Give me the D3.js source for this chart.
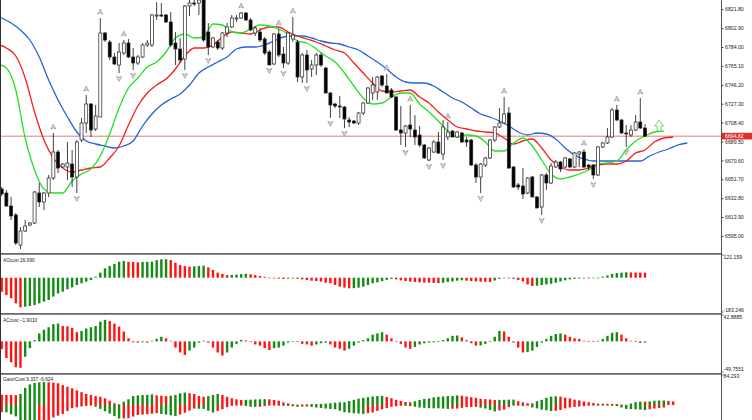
<!DOCTYPE html>
<html>
<head>
<meta charset="utf-8">
<script src="https://cdnjs.cloudflare.com/ajax/libs/d3/7.8.5/d3.min.js"></script>
<style>
  body { margin: 0; background: #fff; }
  text { font-family: "Liberation Sans", Arial, sans-serif; }
</style>
</head>
<body>
<div id="chart"></div>
<script>
// ---- candles (bar 0 = oldest, bar 137 = current) ----
const opens = [6642,6638,6625,6616,6586,6600,6606,6608,6638,6629,6638,6653,6679,6664,6664,6667,6654,6691,6708,6727,
  6702,6714,6798,6789,6774,6766,6778,6788,6774,6768,6774,6786,6786,6815,6816,6816,6809,6788,6782,6772,
  6825,6828,6828,6833,6799,6784,6789,6783,6798,6804,6812,6813,6818,6811,6798,6799,6792,6779,6767,6797,
  6777,6768,6792,6789,6754,6776,6762,6766,6776,6763,6738,6727,6725,6724,6711,6710,6708,6718,6728,6738,
  6739,6755,6745,6741,6734,6701,6698,6706,6701,6696,6686,6671,6679,6689,6677,6694,6700,6694,6698,6691,
  6691,6666,6654,6666,6673,6691,6704,6708,6718,6664,6646,6645,6638,6654,6634,6624,6656,6648,6664,6669,
  6664,6672,6664,6677,6679,6666,6666,6656,6684,6688,6694,6721,6711,6698,6696,6701,6709,6703];
const highs = [6644,6641,6634,6618,6604,6611,6609,6640,6648,6639,6656,6698,6681,6668,6689,6681,6691,6713,6736,6728,
  6726,6813,6799,6791,6778,6788,6791,6792,6783,6776,6788,6791,6817,6829,6828,6817,6819,6799,6793,6826,
  6831,6831,6833,6837,6808,6794,6791,6799,6808,6816,6816,6819,6819,6813,6805,6803,6794,6781,6798,6802,
  6784,6799,6814,6791,6778,6781,6771,6778,6778,6764,6739,6728,6735,6725,6714,6711,6719,6729,6744,6754,
  6755,6756,6757,6743,6735,6725,6706,6726,6716,6705,6687,6684,6691,6699,6711,6709,6701,6700,6699,6694,
  6692,6668,6668,6674,6692,6705,6723,6734,6724,6665,6648,6663,6654,6655,6635,6657,6658,6668,6671,6670,
  6674,6673,6679,6680,6682,6667,6667,6685,6689,6703,6723,6726,6712,6706,6706,6716,6733,6707];
const lows = [6635,6624,6611,6586,6582,6599,6605,6607,6624,6621,6634,6651,6658,6663,6651,6644,6638,6689,6698,6694,
  6700,6714,6789,6771,6766,6758,6776,6773,6761,6766,6773,6784,6784,6811,6814,6808,6784,6766,6768,6761,
  6815,6825,6816,6789,6776,6783,6781,6781,6794,6803,6809,6812,6810,6800,6795,6789,6776,6766,6766,6774,
  6763,6766,6789,6749,6748,6748,6754,6756,6764,6738,6713,6723,6713,6703,6704,6707,6706,6716,6727,6731,
  6731,6744,6738,6733,6700,6686,6684,6694,6686,6684,6672,6670,6678,6677,6671,6691,6694,6693,6688,6684,
  6665,6648,6638,6664,6672,6689,6703,6707,6662,6643,6641,6632,6637,6634,6623,6616,6641,6647,6663,6659,
  6663,6663,6663,6664,6663,6661,6652,6655,6683,6687,6693,6710,6697,6684,6694,6700,6702,6694];
const closes = [6637,6625,6615,6588,6600,6605,6608,6639,6629,6638,6653,6679,6663,6667,6668,6654,6689,6708,6727,6701,
  6715,6798,6791,6774,6767,6779,6788,6774,6768,6774,6786,6788,6816,6816,6815,6809,6786,6782,6771,6825,
  6828,6827,6831,6791,6784,6793,6783,6798,6804,6813,6813,6818,6811,6801,6803,6791,6778,6766,6797,6776,
  6768,6798,6796,6754,6776,6761,6766,6776,6766,6738,6726,6725,6724,6712,6709,6708,6718,6728,6743,6746,
  6754,6746,6738,6734,6701,6698,6705,6702,6694,6686,6673,6683,6689,6678,6704,6699,6694,6699,6689,6689,
  6666,6654,6667,6673,6691,6704,6708,6717,6663,6644,6644,6637,6653,6634,6623,6656,6648,6665,6669,6662,
  6673,6664,6678,6679,6664,6664,6656,6684,6688,6694,6721,6711,6698,6697,6701,6709,6703,6694.82];

// fractal bars
const fractalUpBars = [11, 18, 21, 26, 51, 59, 62, 82, 87, 95, 107, 124, 131, 136];
const fractalDownBars = [16, 25, 28, 39, 44, 57, 60, 65, 70, 73, 86, 91, 94, 102, 115, 126, 133];

// signal arrow (bar, price at its base)
const signalBars = [140];
const signalPrices = [6700];

// ---- alligator lines, read every 2 bars ----
const jawStart = -2;   // blue
const jawValues = [6817,6813,6808,6801,6791,6774,6751,6731,6714,6699,6690,6687,6685,6683,6685,6690,6705,6717,6726,6732,
  6737,6746,6758,6764,6769,6774,6782,6784,6784,6786,6790,6794,6795,6795,6793,6790,6788,6787,6784,6781,
  6775,6769,6762,6754,6749,6748,6748,6745,6739,6733,6729,6723,6717,6714,6710,6705,6699,6696,6698,6697,
  6692,6683,6676,6672,6670,6670,6670,6670,6670,6670,6675,6679,6682,6686,6688];
const teethStart = -1; // red
const teethValues = [6787,6783,6775,6753,6719,6691,6673,6663,6659,6661,6663,6664,6673,6685,6706,6725,6738,6746,6752,6762,
  6775,6783,6783,6786,6794,6799,6798,6797,6801,6804,6804,6799,6795,6792,6789,6785,6781,6778,6768,6758,
  6748,6740,6739,6740,6741,6734,6728,6719,6711,6704,6702,6700,6699,6698,6693,6687,6690,6692,6683,6671,
  6664,6661,6661,6663,6666,6667,6667,6670,6678,6681,6689,6693,6694];
const lipsStart = -1;  // green
const lipsValues = [6767,6763,6741,6693,6661,6642,6638,6638,6650,6657,6662,6675,6697,6723,6743,6753,6764,6769,6779,6793,
  6797,6793,6794,6807,6806,6799,6798,6802,6806,6805,6802,6797,6790,6788,6782,6775,6769,6758,6745,6733,
  6727,6728,6734,6738,6738,6727,6719,6710,6700,6694,6696,6695,6689,6680,6680,6688,6693,6685,6671,6657,
  6652,6654,6657,6661,6667,6668,6670,6681,6690,6695,6699,6700];
const lineStep = 2;

// ---- price axis ----
const priceTicks = [6595.00,6613.90,6632.80,6651.70,6670.60,6689.50,6708.40,6727.30,6746.20,6765.10,6784.00,6802.90,6821.80];
const lastPrice = 6694.82;

// ---- AO ----
const aoValues = [-75,-93,-110,-137,-158,-155,-151,-146,-137,-128,-119,-101,-84,-75,-62,-52,-39,-30,-21,-12,
  5,27,50,62,73,85,89,85,84,82,84,84.5,85,94,98,99,94,80,68,62,
  59,61,62.5,64,55,41,27,20,14,15,16,19,20.5,18,14,9,5,-3,-4,-5,
  -7,-5,-4,-6,-9,-12,-16,-18,-21,-27,-30,-39,-48,-53,-57,-56,-53,-48,-39,-30,
  -25,-18,-12,-7,-9,-14,-18,-21,-23,-25,-26,-27,-28,-29,-27,-23,-20,-16,-14,-16,
  -18,-20,-21,-22,-22.5,-15,-6,-3,-4,-6,-12,-20,-36,-44,-43,-40,-36,-32,-27,-20,
  -14,-9,-6,-4.5,-3.5,-4,-3,-1,5,12,20,25,27,28.5,28,27.5,27,26.69];
const aoRange = [-183.246, 121.159];

// ---- AC ----
const acValues = [-12.5,-27,-34,-42,-43,-25,-11,2,13,19,23,28,29,25,24.5,22,15,17,21,23,
  25,32,35,33,29,24,16,5,-1.5,-2,-1.5,-2,1,4,7.5,5,1,-10,-18,-22,
  -15,-10,-2,1,-2,-10,-18,-23,-18,-10,-4,2.5,1.5,0,-5,-7,-11,-14,-11,-10,
  -7,-2,-0.5,-1,-4,-5,-7,-5,-3,-2,-5,-10,-12,-15,-12,-7,-2,2,5,11,
  13,15,11,5,0,-4,-10,-12,-9,-5,-3,-2,-1.5,-0.5,2,5,9,9.5,6.5,2,
  -3,-7,-6.5,-4,0,7.5,17,16,7.5,-2,-10,-18,-17.5,-15,-9,-2,4,9,12,13,
  11,7.5,5,4,1,0,-0.5,1,4,9,14,15,11,5,1,-1,-2.4,-1.901];
const acRange = [-49.7551, 42.8885];

// ---- Gator (upper = jaw/teeth, lower = teeth/lips, absolute) ----
const gatorUpper = [28.5,28.2,28,27.5,31,48,58,62,63.5,64.5,64,63,61,56,51,47,41,36,31,28,
  25,23,19,12,5,2,9,16,25,27,28,28.5,30,27,26,25,26,28,33,35,
  33,31,25,23,25,28,31,28,23,19,16,14,14.5,15,15.5,16,16.5,16,14,12,
  7.5,4.5,2,1,1.5,2,2.5,2.7,3,4,5,6.5,7.5,7.8,11,14.5,18,20,22,24,
  25,25.5,22.5,19,14.5,11.5,8.5,7.5,10.5,14,17,18.5,21.5,23,24,25,25.5,27,26,24,
  22,20,17.5,16.5,15.5,14,14.5,14.7,15,15.2,10.5,7.5,5,4.8,10.5,14.5,20,23.5,24.5,23.5,
  20.5,18.5,15,13,10,8,5.5,4,3.5,3.2,3,2.8,1.5,0.5,4,8,9.5,9.337,10,12,
  12.5,12.7,11.5,10];
const gatorLower = [20,20.5,26,32,43.5,55,56.5,58,53.5,49,42,35,30,25,17,9,6.5,4,2.5,1,
  5,11,17.5,24,31,38,37.5,37,32.5,28,27,26,24.5,23,25,27,29,31,26.5,22,
  16,10,10.5,11,16,21,16.5,12,6,2,1,0.5,2.5,5,5.2,5,3,1,0.5,2,
  2.2,2.5,3.5,5,4.5,4,5.5,7,8.5,10,11,12,16,20,21.5,23,24,25,23,21,
  16.5,12,8.5,5,3.5,2,2.5,3,5,7,8,9,9.2,9.4,10,11,10.5,10,8,6,
  5.5,5,7.5,10,14,18,15.5,13,6,1,2,3,2,7,9.5,13,15,17,16,14,
  9.5,7,5.5,4,3,2,0.5,1,1.1,1.2,2,3,7,11,11.5,12,13,14,12,10,
  8.5,7];
const gatorTop = 84.293;

// ---- layout ----
const W = 752, H = 420;
const plotRight = 721;
const mainBottom = 252;
const separators = [253, 313, 373];
const green = "#138c13", red = "#ff1414";

const svg = d3.select("#chart").append("svg")
  .attr("width", W)
  .attr("height", H);

const x = d3.scaleLinear().domain([0, 137]).range([1.7, 645]);
const y = d3.scaleLinear().domain([6579, 6831]).range([mainBottom, 0]);
const yAO = d3.scaleLinear().domain(aoRange).range([312, 255]);
const yAC = d3.scaleLinear().domain(acRange).range([372, 315]);
const yG = d3.scaleLinear().domain([0, gatorTop]).range([405, 375]);

const defs = svg.append("defs");
defs.append("clipPath").attr("id", "clipMain")
  .append("rect").attr("x", 0).attr("y", 0).attr("width", plotRight).attr("height", mainBottom);
defs.append("clipPath").attr("id", "clipGator")
  .append("rect").attr("x", 0).attr("y", 374.5).attr("width", plotRight).attr("height", 50);

// ---- main panel ----
const main = svg.append("g").attr("clip-path", "url(#clipMain)");

// current price line
main.append("line")
  .attr("x1", 0).attr("x2", plotRight)
  .attr("y1", y(lastPrice)).attr("y2", y(lastPrice))
  .attr("stroke", "#d45a5a").attr("stroke-width", 0.8);

// alligator
function linePoints(start, values) {
  return values.map((v, k) => ({ i: start + k * lineStep, v }));
}
const maLine = d3.line().x(d => x(d.i)).y(d => y(d.v)).curve(d3.curveMonotoneX);
[[jawStart, jawValues, "#2462dc"], [teethStart, teethValues, "#f41e1e"], [lipsStart, lipsValues, "#24e024"]]
  .forEach(([s, vals, col]) => {
    main.append("path")
      .attr("d", maLine(linePoints(s, vals)))
      .attr("fill", "none")
      .attr("stroke", col)
      .attr("stroke-width", 1.3);
  });

// candles
const bars = d3.range(opens.length);
const candle = main.selectAll("g.candle").data(bars).enter().append("g");
candle.append("line")
  .attr("x1", i => x(i)).attr("x2", i => x(i))
  .attr("y1", i => y(highs[i])).attr("y2", i => y(lows[i]))
  .attr("stroke", "#111").attr("stroke-width", 0.8);
candle.append("rect")
  .attr("x", i => x(i) - 1.5)
  .attr("width", 3)
  .attr("y", i => y(Math.max(opens[i], closes[i])))
  .attr("height", i => Math.max(0.8, Math.abs(y(opens[i]) - y(closes[i]))))
  .attr("fill", i => closes[i] >= opens[i] ? "#fff" : "#000")
  .attr("stroke", "#222").attr("stroke-width", 0.7);

// fractals
const upArrow = "M0,-3L2.6,2.2L0,0.9L-2.6,2.2Z";
const downArrow = "M0,3L2.6,-2.2L0,-0.9L-2.6,-2.2Z";
main.selectAll("path.fu").data(fractalUpBars).enter().append("path")
  .attr("d", upArrow)
  .attr("transform", i => `translate(${x(i)},${y(highs[i]) - 6})`)
  .attr("fill", "#d9d9d9").attr("stroke", "#8c8c8c").attr("stroke-width", 0.6);
main.selectAll("path.fd").data(fractalDownBars).enter().append("path")
  .attr("d", downArrow)
  .attr("transform", i => `translate(${x(i)},${y(lows[i]) + 5.5})`)
  .attr("fill", "#d9d9d9").attr("stroke", "#8c8c8c").attr("stroke-width", 0.6);

// signal arrow
main.selectAll("path.sig").data(signalBars).enter().append("path")
  .attr("d", "M-2,0L-2,-5L-4.5,-5L0,-11L4.5,-5L2,-5L2,0Z")
  .attr("transform", (b, k) => `translate(${x(b)},${y(signalPrices[k])})`)
  .attr("fill", "#fff").attr("stroke", "#5ad65a").attr("stroke-width", 0.9);

// ---- histogram helper ----
function trendColors(values) {
  let last = red;
  return values.map((v, i) => {
    if (i > 0) {
      const a = Math.abs(v), b = Math.abs(values[i - 1]);
      if (a > b) last = green; else if (a < b) last = red;
    }
    return last;
  });
}
function signedColors(values) {
  let last = red;
  return values.map((v, i) => {
    if (i > 0) {
      if (v > values[i - 1]) last = green; else if (v < values[i - 1]) last = red;
    }
    return last;
  });
}
function histogram(g, values, scale, colors, sign) {
  g.selectAll("rect.h").data(values).enter().append("rect")
    .attr("x", (v, i) => x(i) - 1.2)
    .attr("width", 2.4)
    .attr("y", v => Math.min(scale(0), scale(sign * v)))
    .attr("height", v => Math.max(0.6, Math.abs(scale(sign * v) - scale(0))))
    .attr("fill", (v, i) => colors[i]);
}

const aoG = svg.append("g");
histogram(aoG, aoValues, yAO, signedColors(aoValues), 1);
const acG = svg.append("g");
histogram(acG, acValues, yAC, signedColors(acValues), 1);
const gatorG = svg.append("g").attr("clip-path", "url(#clipGator)");
histogram(gatorG, gatorUpper, yG, trendColors(gatorUpper), 1);
histogram(gatorG, gatorLower, yG, trendColors(gatorLower), -1);

// ---- frame ----
svg.selectAll("rect.sep").data(separators).enter().append("rect")
  .attr("x", 0).attr("y", d => d).attr("width", plotRight).attr("height", 1.8)
  .attr("fill", "#6b6b6b");
svg.append("line")
  .attr("x1", plotRight + 0.5).attr("x2", plotRight + 0.5).attr("y1", 0).attr("y2", H)
  .attr("stroke", "#555").attr("stroke-width", 1);
svg.append("line")
  .attr("x1", 0.5).attr("x2", 0.5).attr("y1", 0).attr("y2", H)
  .attr("stroke", "#333").attr("stroke-width", 1);

// price axis
const axis = svg.append("g")
  .attr("transform", `translate(${plotRight + 0.5},0)`)
  .call(d3.axisRight(y).tickValues(priceTicks).tickFormat(d3.format(".2f")).tickSize(2).tickPadding(1.5));
axis.select(".domain").remove();
axis.selectAll("line").attr("stroke", "#444");
axis.selectAll("text").attr("font-size", 5.2).attr("fill", "#222").attr("font-family", "Liberation Sans, Arial, sans-serif");

// last price tag
const tag = svg.append("g").attr("transform", `translate(${plotRight + 1},${y(lastPrice)})`);
tag.append("rect").attr("x", 0).attr("y", -3.3).attr("width", W - plotRight).attr("height", 6.6).attr("fill", "#e0302a");
tag.append("text").attr("x", 3).attr("y", 1.9).attr("font-size", 5.2).attr("fill", "#fff").text(d3.format(".2f")(lastPrice));

// sub panel scale labels
const subLabels = [
  { scale: yAO, v: aoRange[1], t: "121.159", dy: 4.3 },
  { scale: yAO, v: aoRange[0], t: "-183.246", dy: -0.2 },
  { scale: yAC, v: acRange[1], t: "42.8885", dy: 3.5 },
  { scale: yAC, v: acRange[0], t: "-49.7551", dy: -0.8 },
  { scale: yG, v: gatorTop, t: "84.293", dy: 3 }
];
subLabels.forEach(d => {
  const yy = d.scale(d.v);
  svg.append("line").attr("x1", plotRight + 0.5).attr("x2", plotRight + 2.5)
    .attr("y1", yy).attr("y2", yy).attr("stroke", "#444").attr("stroke-width", 0.8);
  svg.append("text").attr("x", plotRight + 2.5).attr("y", yy + d.dy)
    .attr("font-size", 5.2).attr("fill", "#222").text(d.t);
});

// panel titles
const titles = [
  { t: "AOcust " + d3.format(".3f")(aoValues[aoValues.length - 1]), y: 261.5 },
  { t: "ACcust " + d3.format(".4f")(acValues[acValues.length - 1]), y: 321.5 },
  { t: "GatorCust 9.337 -6.624", y: 380.5 }
];
svg.selectAll("text.title").data(titles).enter().append("text")
  .attr("x", 3).attr("y", d => d.y)
  .attr("font-size", 4.8).attr("fill", "#222")
  .text(d => d.t);
</script>
</body>
</html>
